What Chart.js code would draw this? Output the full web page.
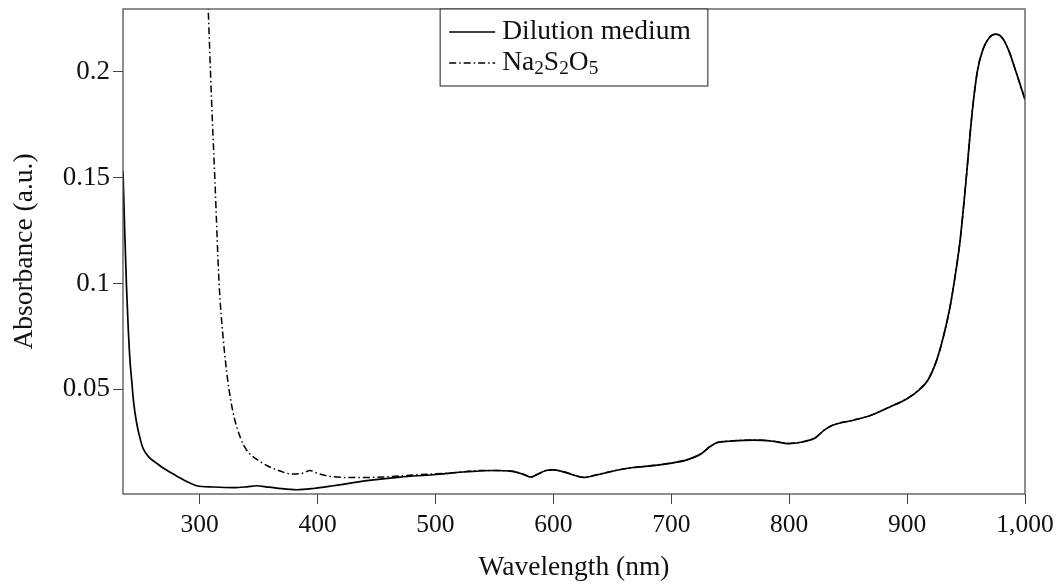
<!DOCTYPE html>
<html>
<head>
<meta charset="utf-8">
<script src="https://cdn.jsdelivr.net/npm/chart.js@4.4.0/dist/chart.umd.min.js"></script>
<style>
  html, body { margin: 0; padding: 0; background: #fff; }
  #wrap { width: 1057px; height: 586px; }
</style>
</head>
<body>
<div id="wrap"><canvas id="absorbanceChart" width="1057" height="586"></canvas></div>
<script>
// Dilution medium spectrum (nm, a.u.)
const mediumWavelength = [235, 236.5, 238, 239.5, 241, 242.4, 244, 246.6, 249.4, 252, 257, 263.4, 270, 277.6, 289, 297.5, 311.6, 328.5, 340, 348.4, 356, 365.3, 382.3, 396.4, 413.4, 441.7, 469.9, 498.2, 526.5, 549, 565, 574, 581, 586, 593.6, 600, 607, 616.4, 625.4, 637.5, 652.7, 667.8, 683, 700.5, 713.3, 725.4, 733, 739, 749.6, 770.8, 786, 800, 813.3, 822.4, 830, 837.5, 852.6, 867.8, 885.9, 900, 910, 917.7, 925.1, 930.7, 936.4, 940.6, 944.9, 949.7, 955.3, 959.6, 963.8, 969.5, 975.2, 980.8, 986.5, 992.2, 1000];
const mediumAbsorbance = [0.153, 0.124, 0.098, 0.078, 0.063, 0.054, 0.044, 0.034, 0.027, 0.0222, 0.018, 0.0152, 0.0125, 0.0100, 0.0065, 0.0045, 0.0039, 0.0036, 0.0040, 0.0045, 0.0040, 0.0034, 0.0026, 0.0032, 0.0045, 0.0069, 0.0086, 0.0097, 0.0111, 0.0117, 0.0113, 0.0100, 0.0086, 0.0097, 0.0117, 0.0120, 0.0113, 0.0097, 0.0084, 0.0097, 0.0117, 0.0131, 0.0139, 0.0152, 0.0167, 0.0196, 0.0230, 0.0249, 0.0255, 0.0260, 0.0255, 0.0244, 0.0254, 0.0272, 0.0309, 0.0332, 0.0352, 0.0374, 0.0418, 0.0456, 0.0497, 0.0544, 0.0638, 0.0747, 0.0889, 0.1030, 0.1200, 0.1469, 0.1814, 0.2002, 0.2096, 0.2159, 0.2177, 0.2159, 0.2096, 0.2002, 0.1869];

// Na2S2O5 spectrum (nm, a.u.)
const sulfiteWavelength = [305, 307.3, 310, 313, 316.5, 320, 323.8, 328.5, 334.2, 339.8, 351.2, 365.3, 379.5, 387.9, 393.6, 399.3, 407.8, 427.5, 455.8, 484.1, 512.3, 540.6, 565, 574, 581, 586, 593.6, 600, 607, 616.4, 625.4, 637.5, 652.7, 667.8, 683, 700.5, 713.3, 725.4, 733, 739, 749.6, 770.8, 786, 800, 813.3, 822.4, 830, 837.5, 852.6, 867.8, 885.9, 900, 910, 917.7, 925.1, 930.7, 936.4, 940.6, 944.9, 949.7, 955.3, 959.6, 963.8, 969.5, 975.2, 980.8, 986.5, 992.2, 1000];
const sulfiteAbsorbance = [0.262, 0.229, 0.188, 0.148, 0.100, 0.074, 0.0544, 0.0387, 0.0277, 0.0214, 0.0160, 0.0120, 0.0100, 0.0105, 0.0117, 0.0105, 0.0092, 0.0084, 0.0086, 0.0097, 0.0105, 0.0117, 0.0114, 0.0101, 0.0087, 0.0098, 0.0117, 0.0121, 0.0114, 0.0098, 0.0085, 0.0098, 0.0117, 0.0131, 0.0140, 0.0153, 0.0168, 0.0197, 0.0231, 0.0249, 0.0256, 0.0261, 0.0256, 0.0245, 0.0255, 0.0273, 0.0310, 0.0333, 0.0353, 0.0375, 0.0419, 0.0457, 0.0498, 0.0545, 0.0638, 0.0747, 0.0889, 0.1030, 0.1200, 0.1469, 0.1814, 0.2002, 0.2096, 0.2159, 0.2177, 0.2159, 0.2096, 0.2002, 0.1869];

const seriesLabels = ['Dilution medium', 'Na₂S₂O₅'];

const FONT = '"Liberation Serif", "DejaVu Serif", serif';
const INK = '#111';
const FRAME = '#444';
const NUM_SIZE = 25.5;
const TEXT_SIZE = 27.5;

const toPoints = (xs, ys) => xs.map((x, i) => ({ x: x, y: ys[i] }));

// full box around the plot area
const frame = {
    id: 'frame',
    afterDraw(chart) {
        const { ctx, chartArea: a } = chart;
        ctx.save();
        ctx.strokeStyle = FRAME;
        ctx.lineWidth = 1.2;
        ctx.strokeRect(a.left, a.top, a.right - a.left, a.bottom - a.top);
        ctx.restore();
    }
};

// draws text, turning unicode subscript digits into lowered small digits
function drawRich(ctx, text, x, y, size) {
    const subs = '₀₁₂₃₄₅₆₇₈₉';
    for (const ch of text) {
        const k = subs.indexOf(ch);
        if (k >= 0) {
            ctx.font = (size * 0.7) + 'px ' + FONT;
            ctx.fillText(String(k), x, y + size * 0.2);
            x += ctx.measureText(String(k)).width;
        } else {
            ctx.font = size + 'px ' + FONT;
            ctx.fillText(ch, x, y);
            x += ctx.measureText(ch).width;
        }
    }
    return x;
}

function richWidth(ctx, text, size) {
    const subs = '₀₁₂₃₄₅₆₇₈₉';
    let w = 0;
    for (const ch of text) {
        const k = subs.indexOf(ch);
        ctx.font = (k >= 0 ? size * 0.7 : size) + 'px ' + FONT;
        w += ctx.measureText(k >= 0 ? String(k) : ch).width;
    }
    return w;
}

// boxed legend at the top centre of the plot area
const boxLegend = {
    id: 'boxLegend',
    afterDraw(chart) {
        const { ctx, chartArea: a } = chart;
        const size = TEXT_SIZE, rowH = 31, sample = 46, padL = 9, gap = 7, padR = 17;
        const textW = Math.max(...chart.data.datasets.map(d => richWidth(ctx, d.label, size)));
        const w = padL + sample + gap + textW + padR;
        const h = rowH * chart.data.datasets.length + 15;
        const x0 = (a.left + a.right) / 2 - w / 2;
        const y0 = a.top;
        ctx.save();
        ctx.fillStyle = '#fff';
        ctx.fillRect(x0, y0, w, h);
        ctx.strokeStyle = FRAME;
        ctx.lineWidth = 1.2;
        ctx.strokeRect(x0, y0, w, h);
        chart.data.datasets.forEach((d, i) => {
            const cy = y0 + 23 + i * rowH;
            ctx.strokeStyle = d.borderColor;
            ctx.lineWidth = d.borderWidth;
            ctx.setLineDash(d.borderDash || []);
            ctx.beginPath();
            ctx.moveTo(x0 + padL, cy);
            ctx.lineTo(x0 + padL + sample, cy);
            ctx.stroke();
            ctx.setLineDash([]);
            ctx.fillStyle = INK;
            ctx.textBaseline = 'middle';
            ctx.textAlign = 'left';
            drawRich(ctx, d.label, x0 + padL + sample + gap, cy, size);
        });
        ctx.restore();
    }
};

const ctx = document.getElementById('absorbanceChart').getContext('2d');
new Chart(ctx, {
    type: 'line',
    data: {
        datasets: [
            {
                label: seriesLabels[0],
                data: toPoints(mediumWavelength, mediumAbsorbance),
                borderColor: '#000',
                borderWidth: 1.7,
                pointRadius: 0,
                cubicInterpolationMode: 'monotone',
                fill: false
            },
            {
                label: seriesLabels[1],
                data: toPoints(sulfiteWavelength, sulfiteAbsorbance),
                borderColor: '#000',
                borderWidth: 1.5,
                borderDash: [7, 3, 1.5, 3],
                pointRadius: 0,
                cubicInterpolationMode: 'monotone',
                fill: false
            }
        ]
    },
    options: {
        responsive: false,
        animation: false,
        layout: { padding: { top: 9, right: 32, bottom: 0, left: 0 } },
        plugins: {
            legend: { display: false },
            tooltip: { enabled: false }
        },
        scales: {
            x: {
                type: 'linear',
                min: 235,
                max: 1000,
                afterFit: s => { s.height = 92; s.paddingLeft = 0; s.paddingRight = 0; },
                border: { display: false },
                grid: { drawOnChartArea: false, drawTicks: true, tickLength: 10, color: FRAME, tickColor: FRAME },
                ticks: {
                    stepSize: 100,
                    includeBounds: false,
                    maxRotation: 0,
                    padding: 6,
                    color: INK,
                    font: { family: FONT, size: NUM_SIZE },
                    callback: v => v.toLocaleString('en-US')
                },
                title: {
                    display: true,
                    text: 'Wavelength (nm)',
                    color: INK,
                    font: { family: FONT, size: TEXT_SIZE },
                    padding: { top: 0, bottom: 2 }
                }
            },
            y: {
                type: 'linear',
                min: 0.0006,
                max: 0.2296,
                afterFit: s => { s.width = 123; s.paddingTop = 0; s.paddingBottom = 0; },
                border: { display: false },
                grid: { drawOnChartArea: false, drawTicks: true, tickLength: 10, color: FRAME, tickColor: FRAME },
                ticks: {
                    stepSize: 0.05,
                    includeBounds: false,
                    padding: 3,
                    color: INK,
                    font: { family: FONT, size: 27 },
                    callback: v => String(Math.round(v * 100) / 100)
                },
                title: {
                    display: true,
                    text: 'Absorbance (a.u.)',
                    color: INK,
                    font: { family: FONT, size: TEXT_SIZE },
                    padding: { top: 8, bottom: 0 }
                }
            }
        }
    },
    plugins: [frame, boxLegend]
});
</script>
</body>
</html>
